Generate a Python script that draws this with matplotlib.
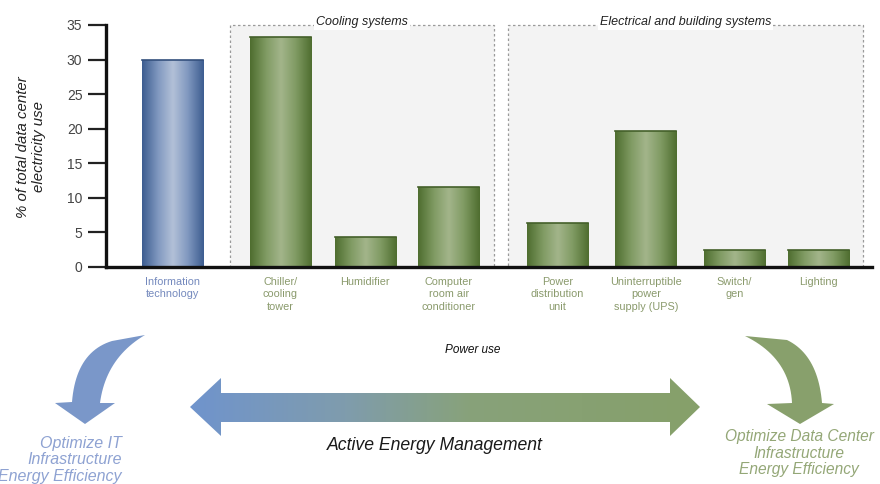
import matplotlib.pyplot as plt
import numpy as np
from matplotlib.colors import LinearSegmentedColormap
from matplotlib.patches import Rectangle, Polygon

categories = ["Information\ntechnology", "Chiller/\ncooling\ntower", "Humidifier",
              "Computer\nroom air\nconditioner", "Power\ndistribution\nunit",
              "Uninterruptible\npower\nsupply (UPS)", "Switch/\ngen", "Lighting"]
share = [30, 33.3, 4.3, 11.5, 6.3, 19.6, 2.5, 2.5]
groups = ["it", "cooling", "cooling", "cooling",
          "electrical", "electrical", "electrical", "electrical"]
y_ticks = [0, 5, 10, 15, 20, 25, 30, 35]
group_titles = ["Cooling systems", "Electrical and building systems"]

# bar centres and the dashed group frames, in axis units
xpos = [0, 1.27, 2.27, 3.25, 4.53, 5.57, 6.61, 7.6]
group_spans = [(0.68, 3.78), (3.95, 8.12)]

plt.rcParams["font.family"] = ["Liberation Sans", "DejaVu Sans"]

blue_cmap = LinearSegmentedColormap.from_list(
    "it", ["#3e5e91", "#7f97bf", "#b3c1d8", "#7f97bf", "#3e5e91"])
green_cmap = LinearSegmentedColormap.from_list(
    "infra", ["#4f6e30", "#7f9a62", "#a3b58b", "#7f9a62", "#4f6e30"])

fig = plt.figure(figsize=(8.8, 4.84), dpi=100)
ax = fig.add_axes([106 / 880, 1 - 267 / 484, 766 / 880, 242 / 484])

# dashed frames behind the cooling and electrical bars
for (x0, x1), title in zip(group_spans, group_titles):
    ax.add_patch(Rectangle((x0, 0), x1 - x0, 35, facecolor="#f3f3f3",
                           edgecolor="#9a9a9a", linestyle=(0, (2, 2)),
                           linewidth=0.9, zorder=1, clip_on=False))
    ax.text((x0 + x1) / 2, 35.45, title, ha="center", va="center",
            fontsize=9, style="italic", color="#222222", zorder=2,
            bbox=dict(facecolor="white", edgecolor="none", pad=1.5))

grad = np.linspace(0, 1, 64)[None, :]
bars = ax.bar(xpos, share, width=0.72, color="none", edgecolor="none", zorder=3)
for bar, grp in zip(bars, groups):
    cmap = blue_cmap if grp == "it" else green_cmap
    x0, w, h = bar.get_x(), bar.get_width(), bar.get_height()
    im = ax.imshow(grad, cmap=cmap, extent=(x0, x0 + w, 0, h), aspect="auto",
                   interpolation="bicubic", zorder=3)
    im.set_clip_path(bar)
    edge = "#34507d" if grp == "it" else "#44602a"
    ax.plot([x0, x0 + w], [h, h], color=edge, linewidth=1.2, zorder=4)

ax.set_xlim(-0.78, 8.23)
ax.set_ylim(0, 35)
ax.set_yticks(y_ticks)
ax.set_xticks(xpos, categories)
for lbl, grp in zip(ax.get_xticklabels(), groups):
    lbl.set_color("#7489bd" if grp == "it" else "#8a9a6c")
    lbl.set_linespacing(1.3)
ax.tick_params(axis="x", length=0, pad=7, labelsize=7.8)
ax.tick_params(axis="y", length=13, width=1.6, color="#222222", pad=4,
               labelsize=10, labelcolor="#444444")
for side in ["top", "right"]:
    ax.spines[side].set_visible(False)
for side in ["left", "bottom"]:
    ax.spines[side].set_linewidth(2.4)
    ax.spines[side].set_color("#111111")
    ax.spines[side].set_zorder(5)
ax.set_facecolor("none")

fig.text(31 / 880, 1 - 147 / 484, "% of total data center\nelectricity use",
         rotation=90, ha="center", va="center", fontsize=10.8, style="italic",
         color="#222222", linespacing=1.2)

# lower panel drawn in pixel coordinates
ov = fig.add_axes([0, 0, 1, 1], zorder=-1)
ov.set_xlim(0, 880)
ov.set_ylim(484, 0)
ov.axis("off")


def qbez(p0, c, p1, n=24):
    t = np.linspace(0, 1, n)[:, None]
    p0, c, p1 = np.array(p0), np.array(c), np.array(p1)
    return list((1 - t) ** 2 * p0 + 2 * (1 - t) * t * c + t ** 2 * p1)


left_arrow = ([(112, 341)] + qbez((112, 341), (76, 352), (72, 402))
              + [(55, 403), (85, 424), (115, 403), (100, 403)]
              + qbez((100, 403), (106, 358), (145, 335)))
ov.add_patch(Polygon(left_arrow, closed=True, facecolor="#7a97c9",
                     edgecolor="none"))

right_arrow = ([(745, 336), (787, 340)] + qbez((787, 340), (818, 355), (822, 403))
               + [(834, 404), (800, 424), (767, 404), (792, 403)]
               + qbez((792, 403), (790, 358), (745, 336)))
ov.add_patch(Polygon(right_arrow, closed=True, facecolor="#88a06c",
                     edgecolor="none"))

# two-headed arrow with a blue to green fill
cy = 407
shape = [(190, cy), (221, cy - 29), (221, cy - 14), (670, cy - 14), (670, cy - 29),
         (700, cy), (670, cy + 29), (670, cy + 15), (221, cy + 15), (221, cy + 29)]
band = Polygon(shape, closed=True, facecolor="none", edgecolor="none")
ov.add_patch(band)
arrow_cmap = LinearSegmentedColormap.from_list(
    "mgmt", [(0, "#7094cc"), (0.3, "#7f9cad"), (0.55, "#88a27a"), (1, "#86a06a")])
im = ov.imshow(grad, cmap=arrow_cmap, extent=(190, 700, cy + 30, cy - 30),
               aspect="auto", interpolation="bicubic")
im.set_clip_path(band)
ov.set_xlim(0, 880)
ov.set_ylim(484, 0)

ov.text(473, 350, "Power use", ha="center", va="center", fontsize=8.5,
        style="italic", color="#111111")
ov.text(435, 446, "Active Energy Management", ha="center", va="center",
        fontsize=12.7, style="italic", color="#1a1a1a")
ov.text(122, 460, "Optimize IT\nInfrastructure\nEnergy Efficiency", ha="right",
        va="center", multialignment="right", fontsize=11.5, style="italic",
        color="#8ea2d2", linespacing=1.1)
ov.text(799, 453, "Optimize Data Center\nInfrastructure\nEnergy Efficiency",
        ha="center", va="center", fontsize=11.2, style="italic", color="#94a777",
        linespacing=1.1)

fig.savefig("out.png", dpi=100)
